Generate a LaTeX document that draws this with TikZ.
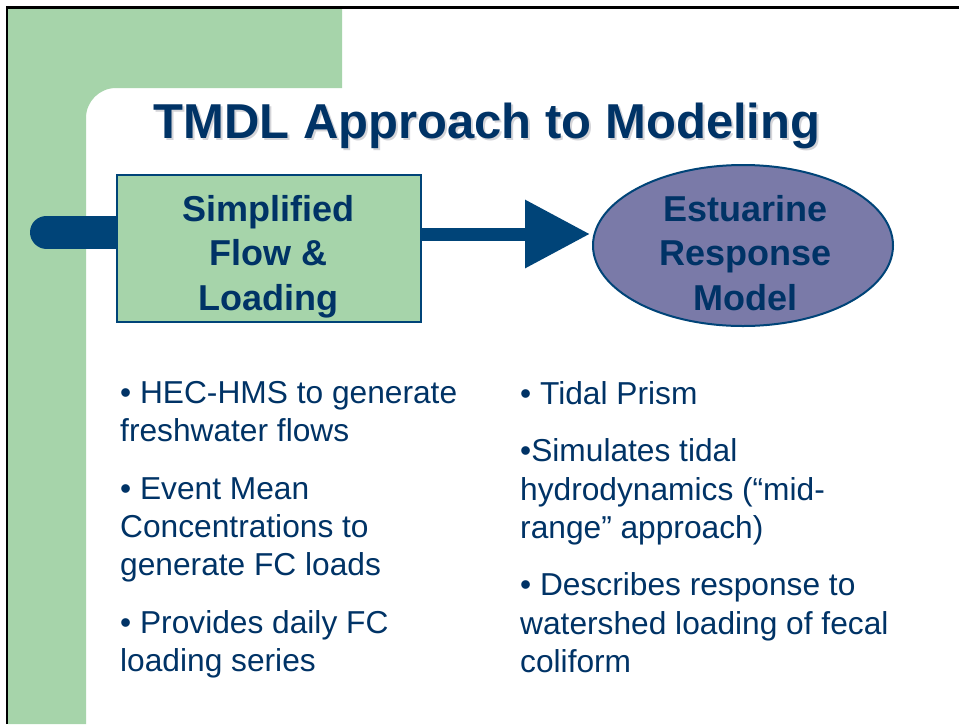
\documentclass[tikz,border=0pt]{standalone}
\usepackage{fontspec}
\setmainfont{Liberation Sans}
\usetikzlibrary{shapes.geometric,arrows.meta}
\pgfdeclarelayer{bgzero}
\pgfdeclarelayer{bgone}
\pgfsetlayers{bgzero,bgone,main}
\definecolor{navy}{RGB}{0,51,102}
\definecolor{conblue}{RGB}{0,68,120}
\definecolor{slgreen}{RGB}{166,212,170}
\definecolor{ellfill}{RGB}{122,122,168}
\definecolor{shadowgray}{RGB}{212,212,216}
\newcommand{\shadowtext}[1]{\makebox[0pt][l]{\hspace{2pt}\raisebox{-2pt}{\color{shadowgray}#1}}#1}
\begin{document}
\begin{tikzpicture}[x=1pt,y=-1pt,
  titletext/.style={font=\fontsize{49}{49}\selectfont\bfseries, text=navy, inner sep=0pt, anchor=base},
  boxline/.style={font=\fontsize{36}{36}\selectfont\bfseries, text=navy, inner sep=0pt, anchor=base},
  bul/.style={font=\fontsize{31.7}{31.7}\selectfont, text=navy, inner sep=0pt, anchor=base west},
  connector/.style={conblue},
]
\useasboundingbox (0,0) rectangle (959,724);
\begin{pgfonlayer}{bgzero}
\fill[white] (0,0) rectangle (959,724);
\fill[slgreen] (8,9) -- (342,9) -- (342,88) -- (116,88) .. controls (99.4,88) and (86,101.4) .. (86,118) -- (86,724) -- (8,724) -- cycle;
\draw[black, line width=2.4pt] (7,724) -- (7,7.5) -- (959,7.5);
\end{pgfonlayer}

% title
\node[titletext] (title) at (487,138) {\shadowtext{TMDL Approach to Modeling}};

% box and ellipse
\node[draw=conblue, line width=2pt, fill=slgreen, minimum width=304pt, minimum height=147pt, inner sep=0pt] (box) at (269,248.5) {};
\node[ellipse, draw=conblue, line width=2pt, fill=ellfill, minimum width=300pt, minimum height=161pt, inner sep=0pt] (ell) at (743,245.5) {};

% connectors
\coordinate (stubend) at (46.5,232);
\begin{pgfonlayer}{bgone}
\draw[connector, line width=33pt, line cap=round] (stubend) -- (box.west |- stubend);
\end{pgfonlayer}
\coordinate (arrstart) at ([yshift=14.5pt]box.east);
\coordinate (arrend) at (arrstart -| ell.west);
\draw[connector, line width=13pt, -{Triangle[length=65pt,width=65pt]}, shorten >=2pt] (arrstart) -- (arrend);

% box text
\node[boxline] (b1) at (268.5,221) {Simplified};
\node[boxline] (b2) at (268.5,265) {Flow \&};
\node[boxline] (b3) at (268.5,310) {Loading};
\node[boxline] (e1) at (745.5,221) {Estuarine};
\node[boxline] (e2) at (745.5,265) {Response};
\node[boxline] (e3) at (745.5,310) {Model};

% left bullets
\node[bul] (l1) at (120,403) {• HEC-HMS to generate};
\node[bul] (l2) at (120,441) {freshwater flows};
\node[bul] (l3) at (120,499) {• Event Mean};
\node[bul] (l4) at (120,537) {Concentrations to};
\node[bul] (l5) at (120,575) {generate FC loads};
\node[bul] (l6) at (120,633) {• Provides daily FC};
\node[bul] (l7) at (120,671) {loading series};

% right bullets
\node[bul] (r1) at (520,404) {• Tidal Prism};
\node[bul] (r2) at (520,461) {•Simulates tidal};
\node[bul] (r3) at (520,500) {hydrodynamics (“mid-};
\node[bul] (r4) at (520,538) {range” approach)};
\node[bul] (r5) at (520,595) {• Describes response to};
\node[bul] (r6) at (520,634) {watershed loading of fecal};
\node[bul] (r7) at (520,672) {coliform};
\end{tikzpicture}
\end{document}
